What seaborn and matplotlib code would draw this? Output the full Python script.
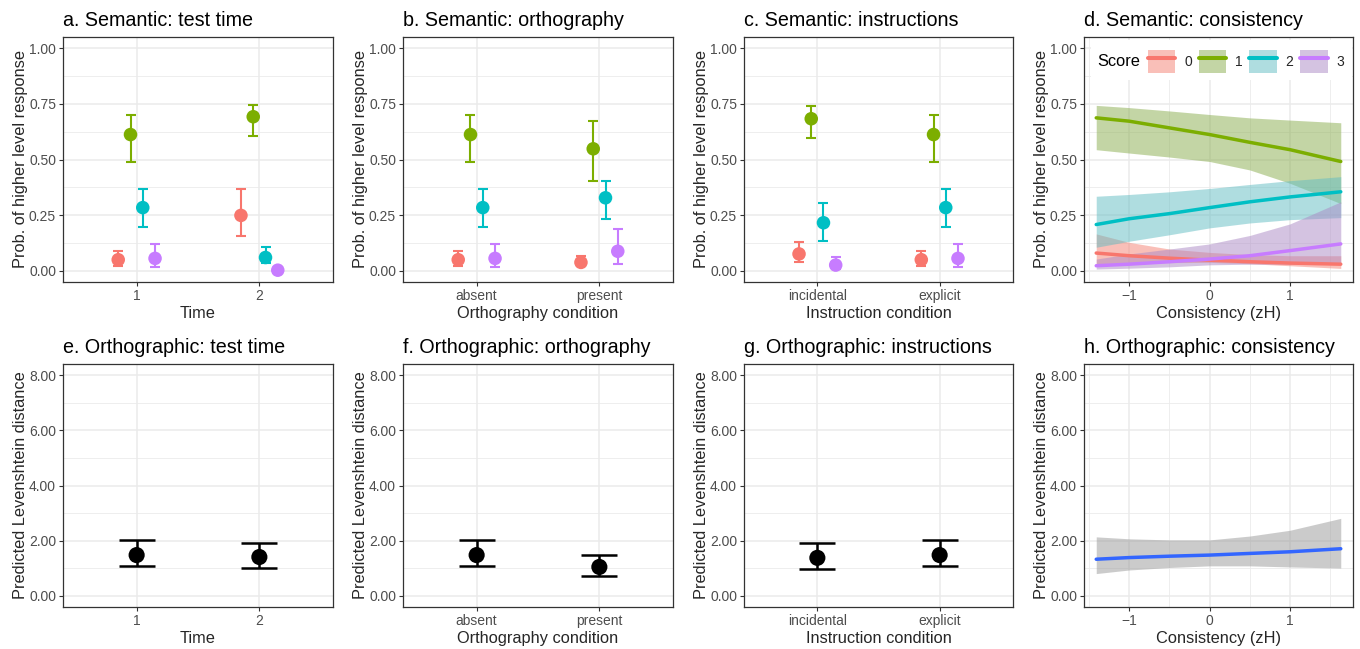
import numpy as np
import pandas as pd
import matplotlib
matplotlib.use("Agg")
import matplotlib.pyplot as plt
import seaborn as sns
from matplotlib.patches import Patch, Rectangle
from matplotlib.lines import Line2D
from matplotlib.legend_handler import HandlerTuple
from matplotlib.ticker import FormatStrFormatter, FixedLocator

# ---------------- data ----------------
scores = ["0", "1", "2", "3"]
score_colors = ["#F8766D", "#7CAE00", "#00BFC4", "#C77CFF"]
band_colors = ["#F58173", "#89AD4D", "#61BDC3", "#AB89C5"]

time_levels = ["1", "2"]
orth_levels = ["absent", "present"]
instr_levels = ["incidental", "explicit"]

# Semantic panels: rows = condition level, columns = score 0..3
sem_time_est = [[0.050, 0.612, 0.284, 0.056], [0.249, 0.692, 0.060, 0.003]]
sem_time_lo = [[0.023, 0.489, 0.195, 0.018], [0.156, 0.604, 0.035, 0.000]]
sem_time_hi = [[0.088, 0.702, 0.367, 0.119], [0.367, 0.743, 0.109, 0.004]]

sem_orth_est = [[0.050, 0.612, 0.284, 0.056], [0.038, 0.548, 0.328, 0.088]]
sem_orth_lo = [[0.023, 0.489, 0.195, 0.018], [0.020, 0.403, 0.231, 0.030]]
sem_orth_hi = [[0.088, 0.702, 0.367, 0.119], [0.068, 0.671, 0.403, 0.190]]

sem_instr_est = [[0.076, 0.683, 0.216, 0.026], [0.050, 0.612, 0.284, 0.056]]
sem_instr_lo = [[0.041, 0.595, 0.136, 0.008], [0.023, 0.489, 0.195, 0.018]]
sem_instr_hi = [[0.128, 0.740, 0.305, 0.063], [0.088, 0.702, 0.367, 0.119]]

# Semantic consistency curves (x = zH)
cons_x = [-1.41, -1.0, -0.5, 0.0, 0.5, 1.0, 1.63]
cons_fit = {
    "0": [0.080, 0.068, 0.057, 0.048, 0.041, 0.035, 0.030],
    "1": [0.687, 0.672, 0.642, 0.612, 0.577, 0.544, 0.491],
    "2": [0.208, 0.234, 0.257, 0.284, 0.310, 0.332, 0.355],
    "3": [0.023, 0.030, 0.041, 0.053, 0.068, 0.091, 0.121],
}
cons_lo = {
    "0": [0.030, 0.035, 0.037, 0.038, 0.032, 0.023, 0.011],
    "1": [0.544, 0.529, 0.511, 0.491, 0.453, 0.393, 0.302],
    "2": [0.106, 0.133, 0.162, 0.193, 0.215, 0.230, 0.239],
    "3": [0.008, 0.012, 0.018, 0.027, 0.030, 0.030, 0.030],
}
cons_hi = {
    "0": [0.166, 0.128, 0.098, 0.083, 0.073, 0.068, 0.068],
    "1": [0.743, 0.733, 0.718, 0.702, 0.687, 0.677, 0.665],
    "2": [0.335, 0.343, 0.355, 0.370, 0.388, 0.405, 0.423],
    "3": [0.053, 0.076, 0.098, 0.121, 0.159, 0.211, 0.310],
}

# Orthographic panels
orth_time_est = [1.48, 1.41]
orth_time_lo = [1.07, 1.01]
orth_time_hi = [2.03, 1.92]

orth_orth_est = [1.48, 1.05]
orth_orth_lo = [1.07, 0.71]
orth_orth_hi = [2.03, 1.47]

orth_instr_est = [1.38, 1.48]
orth_instr_lo = [0.98, 1.07]
orth_instr_hi = [1.92, 2.03]

lev_x = [-1.41, -1.0, -0.5, 0.0, 0.5, 1.0, 1.63]
lev_fit = [1.33, 1.39, 1.44, 1.48, 1.54, 1.60, 1.71]
lev_lo = [0.81, 0.94, 1.03, 1.09, 1.09, 1.05, 1.01]
lev_hi = [2.14, 2.07, 2.03, 2.03, 2.17, 2.38, 2.81]

# ---------------- style ----------------
sns.set_theme(style="white")
plt.rcParams["font.family"] = ["Liberation Sans", "DejaVu Sans"]

W, H = 1360, 649
fig = plt.figure(figsize=(W / 100, H / 100), dpi=100)

col_lr = [(63, 333), (403, 673), (744, 1013), (1084, 1353)]
row_tb = [(37, 282), (364, 607)]

TITLE_FS = 14.2
LABEL_FS = 11.8
TICK_FS = 10
GRID_MAJ = "#EBEBEB"


def make_ax(r, c):
    l, rr = col_lr[c]
    t, b = row_tb[r]
    ax = fig.add_axes([l / W, 1 - b / H, (rr - l) / W, (b - t) / H])
    for s in ax.spines.values():
        s.set_color("#333333")
        s.set_linewidth(0.9)
    ax.tick_params(axis="both", which="major", direction="out", length=3,
                   width=0.8, color="#333333", labelsize=TICK_FS,
                   labelcolor="#4D4D4D", pad=2, left=True, bottom=True)
    ax.tick_params(axis="both", which="minor", length=0)
    ax.set_axisbelow(True)
    return ax


def style_grid(ax, y_major, y_minor, x_major, x_minor=None):
    ax.yaxis.set_major_locator(FixedLocator(y_major))
    ax.yaxis.set_minor_locator(FixedLocator(y_minor))
    ax.xaxis.set_major_locator(FixedLocator(x_major))
    if x_minor is not None:
        ax.xaxis.set_minor_locator(FixedLocator(x_minor))
        ax.grid(True, axis="x", which="minor", color=GRID_MAJ, lw=0.6)
    ax.grid(True, which="major", color=GRID_MAJ, lw=1.1)
    ax.grid(True, axis="y", which="minor", color=GRID_MAJ, lw=0.6)


def set_title(ax, text):
    ax.set_title(text, loc="left", fontsize=TITLE_FS, pad=8, color="black")


def semantic_cat(ax, levels, est, lo, hi, xlabel, title):
    rows = []
    for i, lev in enumerate(levels):
        for j, sc in enumerate(scores):
            rows.append(dict(level=lev, score=sc, xpos=i + 1 + (j - 1.5) * 0.1,
                             est=est[i][j], lo=lo[i][j], hi=hi[i][j]))
    df = pd.DataFrame(rows)
    for j, sc in enumerate(scores):
        d = df[df.score == sc]
        ax.errorbar(d.xpos, d.est, yerr=[d.est - d.lo, d.hi - d.est], fmt="none",
                    ecolor=score_colors[j], elinewidth=1.5, capsize=3.9,
                    capthick=1.5, zorder=2)
    sns.scatterplot(data=df, x="xpos", y="est", hue="score", palette=score_colors,
                    hue_order=scores, s=95, edgecolor="none", legend=False,
                    ax=ax, zorder=3)
    ax.set_xlim(0.4, 2.6)
    ax.set_ylim(-0.05, 1.05)
    style_grid(ax, [0, 0.25, 0.5, 0.75, 1.0], [0.125, 0.375, 0.625, 0.875], [1, 2])
    ax.set_xticklabels(levels)
    ax.yaxis.set_major_formatter(FormatStrFormatter("%.2f"))
    ax.set_xlabel(xlabel, fontsize=LABEL_FS, labelpad=2)
    ax.set_ylabel("Prob. of higher level response", fontsize=LABEL_FS, labelpad=1)
    set_title(ax, title)


def ortho_cat(ax, levels, est, lo, hi, xlabel, title):
    df = pd.DataFrame(dict(level=levels, xpos=np.arange(1, len(levels) + 1),
                           est=est, lo=lo, hi=hi))
    ax.errorbar(df.xpos, df.est, yerr=[df.est - df.lo, df.hi - df.est], fmt="none",
                ecolor="black", elinewidth=1.8, capsize=13.2, capthick=1.8, zorder=2)
    sns.scatterplot(data=df, x="xpos", y="est", color="black", s=135,
                    edgecolor="none", legend=False, ax=ax, zorder=3)
    ax.set_xlim(0.4, 2.6)
    ax.set_ylim(-0.4, 8.4)
    style_grid(ax, [0, 2, 4, 6, 8], [1, 3, 5, 7], [1, 2])
    ax.set_xticklabels(levels)
    ax.yaxis.set_major_formatter(FormatStrFormatter("%.2f"))
    ax.set_xlabel(xlabel, fontsize=LABEL_FS, labelpad=2)
    ax.set_ylabel("Predicted Levenshtein distance", fontsize=LABEL_FS, labelpad=1)
    set_title(ax, title)


# ---------------- top row ----------------
ax_a = make_ax(0, 0)
semantic_cat(ax_a, time_levels, sem_time_est, sem_time_lo, sem_time_hi,
             "Time", "a. Semantic: test time")
ax_b = make_ax(0, 1)
semantic_cat(ax_b, orth_levels, sem_orth_est, sem_orth_lo, sem_orth_hi,
             "Orthography condition", "b. Semantic: orthography")
ax_c = make_ax(0, 2)
semantic_cat(ax_c, instr_levels, sem_instr_est, sem_instr_lo, sem_instr_hi,
             "Instruction condition", "c. Semantic: instructions")

ax_d = make_ax(0, 3)
long_rows = []
for sc in scores:
    for k, xv in enumerate(cons_x):
        long_rows.append(dict(score=sc, x=xv, fit=cons_fit[sc][k],
                              lo=cons_lo[sc][k], hi=cons_hi[sc][k]))
cons_df = pd.DataFrame(long_rows)
for j, sc in enumerate(scores):
    d = cons_df[cons_df.score == sc]
    ax_d.fill_between(d.x, d.lo, d.hi, color=band_colors[j], alpha=0.5,
                      linewidth=0, zorder=1)
sns.lineplot(data=cons_df, x="x", y="fit", hue="score", palette=score_colors,
             hue_order=scores, linewidth=2.5, legend=False, ax=ax_d, zorder=2)
ax_d.set_xlim(-1.562, 1.782)
ax_d.set_ylim(-0.05, 1.05)
style_grid(ax_d, [0, 0.25, 0.5, 0.75, 1.0], [0.125, 0.375, 0.625, 0.875],
           [-1, 0, 1], [-1.5, -0.5, 0.5, 1.5])
ax_d.yaxis.set_major_formatter(FormatStrFormatter("%.2f"))
ax_d.set_xticklabels(["\u22121", "0", "1"])
ax_d.set_xlabel("Consistency (zH)", fontsize=LABEL_FS, labelpad=2)
ax_d.set_ylabel("Prob. of higher level response", fontsize=LABEL_FS, labelpad=1)
set_title(ax_d, "d. Semantic: consistency")

# legend background (white box inside panel d)
bx0, bx1, by0, by1 = 1091, 1352, 40, 80
ax_d.add_patch(Rectangle((bx0 / W, 1 - by1 / H), (bx1 - bx0) / W, (by1 - by0) / H,
                         transform=fig.transFigure, facecolor="white",
                         edgecolor="none", zorder=1.5))
fig.text(1097 / W, 1 - 62 / H, "Score", fontsize=LABEL_FS, va="center",
         ha="left", color="black", zorder=5)
handles = []
for j, sc in enumerate(scores):
    handles.append((Patch(facecolor=band_colors[j], alpha=0.5, edgecolor="none"),
                    Line2D([], [], color=score_colors[j], lw=2.9)))
leg = ax_d.legend(handles, scores, ncol=4, loc="upper left",
                  bbox_to_anchor=(1148 / W, 1 - 50 / H),
                  bbox_transform=fig.transFigure, frameon=False, fontsize=10,
                  handlelength=1.95, handleheight=2.15, handletextpad=0.65,
                  columnspacing=0.5, borderpad=0.0, borderaxespad=0.0,
                  handler_map={tuple: HandlerTuple(ndivide=1, pad=0)})
leg.set_zorder(5)

# ---------------- bottom row ----------------
ax_e = make_ax(1, 0)
ortho_cat(ax_e, time_levels, orth_time_est, orth_time_lo, orth_time_hi,
          "Time", "e. Orthographic: test time")
ax_f = make_ax(1, 1)
ortho_cat(ax_f, orth_levels, orth_orth_est, orth_orth_lo, orth_orth_hi,
          "Orthography condition", "f. Orthographic: orthography")
ax_g = make_ax(1, 2)
ortho_cat(ax_g, instr_levels, orth_instr_est, orth_instr_lo, orth_instr_hi,
          "Instruction condition", "g. Orthographic: instructions")

ax_h = make_ax(1, 3)
lev_df = pd.DataFrame(dict(x=lev_x, fit=lev_fit, lo=lev_lo, hi=lev_hi))
ax_h.fill_between(lev_df.x, lev_df.lo, lev_df.hi, color="#999999", alpha=0.5,
                  linewidth=0, zorder=1)
sns.lineplot(data=lev_df, x="x", y="fit", color="#3366FF", linewidth=2.5,
             ax=ax_h, zorder=2)
ax_h.set_xlim(-1.562, 1.782)
ax_h.set_ylim(-0.4, 8.4)
style_grid(ax_h, [0, 2, 4, 6, 8], [1, 3, 5, 7], [-1, 0, 1], [-1.5, -0.5, 0.5, 1.5])
ax_h.yaxis.set_major_formatter(FormatStrFormatter("%.2f"))
ax_h.set_xticklabels(["\u22121", "0", "1"])
ax_h.set_xlabel("Consistency (zH)", fontsize=LABEL_FS, labelpad=2)
ax_h.set_ylabel("Predicted Levenshtein distance", fontsize=LABEL_FS, labelpad=1)
set_title(ax_h, "h. Orthographic: consistency")

fig.savefig("out.png", dpi=100)
